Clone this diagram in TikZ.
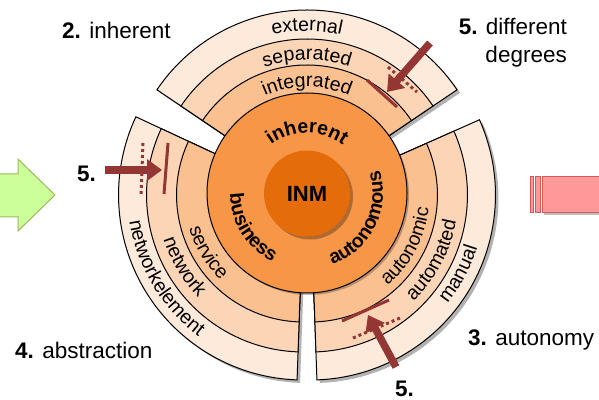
\documentclass[tikz,border=0pt]{standalone}
\usepackage{fontspec}
\setmainfont{Liberation Sans}
\usetikzlibrary{arrows.meta,decorations.text,shadows,calc}
\definecolor{ringA}{HTML}{FAC090}
\definecolor{ringB}{HTML}{FBD5B5}
\definecolor{ringC}{HTML}{FDEADA}
\definecolor{midorange}{HTML}{F79646}
\definecolor{darkorange}{HTML}{E46C0A}
\definecolor{arrowred}{HTML}{943634}
\definecolor{greenfill}{HTML}{CCFF99}
\definecolor{greenline}{HTML}{9BBB59}
\definecolor{pinkfill}{HTML}{FF9999}
\definecolor{pinkline}{HTML}{D05A5A}
\newcommand\ringfont{\fontsize{19.5}{20}\selectfont}
\newcommand\labfont{\fontsize{22.5}{28}\selectfont}
\begin{document}
\begin{tikzpicture}[x=1pt,y=1pt,
  sec/.style={draw=black, line width=1pt},
  secshadow/.style={drop shadow={shadow xshift=3pt, shadow yshift=-3pt, opacity=0.3, fill=black}},
  bigarrow/.style={draw=arrowred, line width=7.5pt, -{Triangle[length=15pt,width=21pt]}},
  bar/.style={draw=arrowred, line width=3pt},
  dotbar/.style={draw=arrowred, line width=3pt, dash pattern=on 3pt off 3pt},
  lab/.style={font=\labfont, inner sep=0pt, anchor=base west},
]
\useasboundingbox (0,0) rectangle (599,399);
\fill[white] (0,0) rectangle (599,399);
\clip (0,0) rectangle (599,399);

% side block arrows
\filldraw[fill=greenfill, draw=greenline, line width=1pt]
  (-5,182) -- (18,182) -- (18,168) -- (55,204) -- (18,240) -- (18,225) -- (-5,225) -- cycle;
\begin{scope}[pinkline, line width=1pt]
  \filldraw[fill=pinkfill, drop shadow={shadow xshift=2pt, shadow yshift=-2pt, opacity=0.25, fill=black}] (542,186) rectangle (610,222);
  \filldraw[fill=pinkfill] (530,186) rectangle (533,222);
  \filldraw[fill=pinkfill] (535,186) rectangle (540.5,222);
\end{scope}

\coordinate (C) at (307,206);

% top sector
\begin{scope}[shift={(C)}, shift={(90:2)}]
  \filldraw[sec, fill=ringC, secshadow] (34:95) arc[start angle=34, end angle=146, radius=95] -- (146:181) arc[start angle=146, end angle=34, radius=181] -- cycle;
  \filldraw[sec, fill=ringB] (34:95) arc[start angle=34, end angle=146, radius=95] -- (146:152) arc[start angle=146, end angle=34, radius=152] -- cycle;
  \filldraw[sec, fill=ringA] (34:95) arc[start angle=34, end angle=146, radius=95] -- (146:126) arc[start angle=146, end angle=34, radius=126] -- cycle;
  \path[decorate, decoration={text along path, text align=center, text={|\ringfont|external}}] (146:160) arc[start angle=146, end angle=34, radius=160];
  \path[decorate, decoration={text along path, text align=center, text={|\ringfont|separated}}] (146:131) arc[start angle=146, end angle=34, radius=131];
  \path[decorate, decoration={text along path, text align=center, text={|\ringfont|integrated}}] (146:104) arc[start angle=146, end angle=34, radius=104];
\end{scope}

% left sector
\begin{scope}[shift={(C)}, shift={(210:4)}]
  \filldraw[sec, fill=ringC, secshadow] (155:95) arc[start angle=155, end angle=268, radius=95] -- (268:185) arc[start angle=268, end angle=155, radius=185] -- cycle;
  \filldraw[sec, fill=ringB] (155:95) arc[start angle=155, end angle=268, radius=95] -- (268:157) arc[start angle=268, end angle=155, radius=157] -- cycle;
  \filldraw[sec, fill=ringA] (155:95) arc[start angle=155, end angle=268, radius=95] -- (268:127) arc[start angle=268, end angle=155, radius=127] -- cycle;
  \path[decorate, decoration={text along path, text align=center, text={|\ringfont|service}}] (160:119) arc[start angle=160, end angle=262, radius=119];
  \path[decorate, decoration={text along path, text align=center, text={|\ringfont|network}}] (160:147) arc[start angle=160, end angle=262, radius=147];
  \path[decorate, decoration={text along path, text align=center, text={|\ringfont|networkelement}}] (160:176) arc[start angle=160, end angle=262, radius=176];
\end{scope}

% right sector
\begin{scope}[shift={(C)}, shift={(330:4)}]
  \filldraw[sec, fill=ringC, secshadow] (-88:95) arc[start angle=-88, end angle=24, radius=95] -- (24:185) arc[start angle=24, end angle=-88, radius=185] -- cycle;
  \filldraw[sec, fill=ringB] (-88:95) arc[start angle=-88, end angle=24, radius=95] -- (24:157) arc[start angle=24, end angle=-88, radius=157] -- cycle;
  \filldraw[sec, fill=ringA] (-88:95) arc[start angle=-88, end angle=24, radius=95] -- (24:127) arc[start angle=24, end angle=-88, radius=127] -- cycle;
  \path[decorate, decoration={text along path, text align=center, text={|\ringfont|autonomic}}] (-80:119) arc[start angle=-80, end angle=24, radius=119];
  \path[decorate, decoration={text along path, text align=center, text={|\ringfont|automated}}] (-80:148) arc[start angle=-80, end angle=24, radius=148];
  \path[decorate, decoration={text along path, text align=center, text={|\ringfont|manual}}] (-80:175) arc[start angle=-80, end angle=24, radius=175];
\end{scope}

% central circles
\node[circle, minimum size=200pt, inner sep=0pt, draw=black, line width=1pt, fill=midorange,
  drop shadow={shadow xshift=2pt, shadow yshift=-2pt, opacity=0.25, fill=black}] (mid) at (C) {};
\node[circle, minimum size=86pt, inner sep=0pt, fill=darkorange,
  drop shadow={shadow xshift=3pt, shadow yshift=-3pt, opacity=0.35, fill=black!80!brown}] (inm) at ($(C)+(0,-0.5)$) {\fontsize{22}{22}\selectfont\bfseries INM};
\begin{scope}[shift={(C)}]
  \path[decorate, decoration={text along path, text align=center, text={|\ringfont\bfseries|inherent}}] (150:60) arc[start angle=150, end angle=30, radius=60];
  \path[decorate, decoration={text along path, text align=center, text={|\ringfont\bfseries|business}}] (160:77) arc[start angle=160, end angle=264, radius=77];
  \path[decorate, decoration={text along path, text align=center, text={|\ringfont\bfseries|autonomous}}] (-80:76) arc[start angle=-80, end angle=27, radius=76];
\end{scope}

% marker lines and arrows
\coordinate (tdA) at (388,332); \coordinate (tdB) at (417,307);
\coordinate (tsA) at (367,319); \coordinate (tsB) at (397,292);
\coordinate (taS) at (430,356); \coordinate (taT) at (387,307);
\draw[dotbar] (tdA) -- (tdB);
\draw[bar] (tsA) -- (tsB);
\draw[bigarrow] (taS) -- (taT);

\coordinate (ldA) at (143,256); \coordinate (ldB) at (141,204);
\coordinate (lsA) at (168,256); \coordinate (lsB) at (164,205);
\coordinate (laS) at (105,229); \coordinate (laT) at (162,229);
\draw[dotbar] (ldA) -- (ldB);
\draw[bar] (lsA) -- (lsB);
\draw[bigarrow] (laS) -- (laT);

\coordinate (bdA) at (353,61); \coordinate (bdB) at (400,81);
\coordinate (bsA) at (342,78); \coordinate (bsB) at (389,99);
\coordinate (baS) at (396,32); \coordinate (baT) at (368,84);
\draw[dotbar] (bdA) -- (bdB);
\draw[bar] (bsA) -- (bsB);
\draw[bigarrow] (baS) -- (baT);

% labels
\node[lab] (l2) at (62,360) {\textbf{2.} inherent};
\node[lab, anchor=base east, align=right] (l5a) at (567,336) {\textbf{5.} different\\degrees};
\node[lab] (l5b) at (77,217) {\textbf{5.}};
\node[lab] (l4) at (15,41) {\textbf{4.} abstraction};
\node[lab] (l3) at (468,54) {\textbf{3.} autonomy};
\node[lab] (l5c) at (395,3) {\textbf{5.}};
\end{tikzpicture}
\end{document}
